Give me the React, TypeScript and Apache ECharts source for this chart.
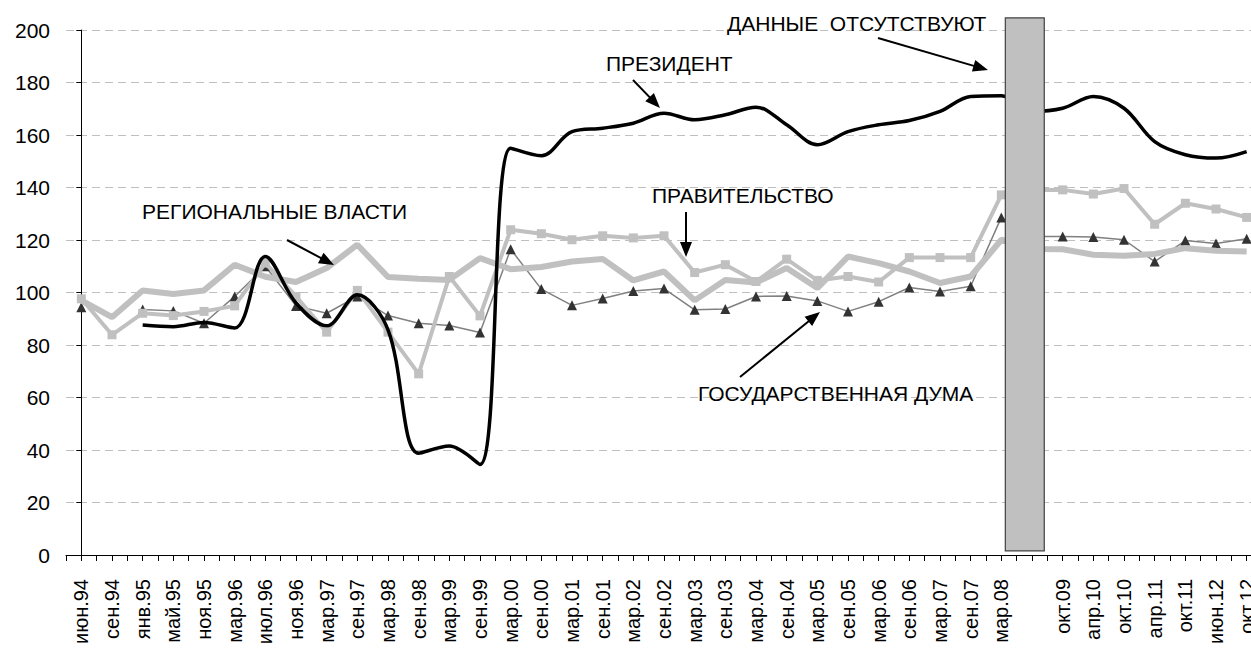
import React, { useEffect, useRef } from 'react';
import * as echarts from 'echarts';

const categories = [
  'июн.94', 'сен.94', 'янв.95', 'май.95', 'ноя.95', 'мар.96', 'июл.96', 'ноя.96', 'мар.97', 'сен.97',
  'мар.98', 'сен.98', 'мар.99', 'сен.99', 'мар.00', 'сен.00', 'мар.01', 'сен.01', 'мар.02', 'сен.02',
  'мар.03', 'сен.03', 'мар.04', 'сен.04', 'мар.05', 'сен.05', 'мар.06', 'сен.06', 'мар.07', 'сен.07',
  'мар.08', '', 'окт.09', 'апр.10', 'окт.10', 'апр.11', 'окт.11', 'июн.12', 'окт.12',
];

const president = [
  null, null, 87.6, 87, 88.6, 86.5, 113.7, 96, 87.3, 99.1,
  85.8, 38.8, 41.5, 34.5, 155, 152.1, 161.3, 162.6, 164.5, 168.3,
  165.8, 167.7, 170.6, 163.9, 156.3, 161.3, 163.9, 165.5, 169, 174.7,
  175, 169, 170.2, 174.7, 170.2, 157.5, 152.5, 151.2, 153.7,
];

const government = [
  97.6, 83.9, 92.1, 91.2, 92.8, 94.9, 111.2, 98.5, 84.9, 100.8,
  84.9, 69.0, 106.1, 91.1, 123.9, 122.4, 120.1, 121.6, 120.8, 121.6,
  107.6, 110.6, 104.2, 112.7, 104.6, 106.1, 104, 113.3, 113.3, 113.3,
  137.2, 139, 139.1, 137.5, 139.6, 126, 134, 131.8, 128.6,
];

const regional = [
  97, 90.6, 100.8, 99.4, 100.8, 110.6, 106, 104, 109.3, 118.2,
  105.9, 105.2, 104.8, 113.1, 108.9, 109.7, 111.8, 112.8, 104.6, 108,
  97, 104.8, 103.8, 109.3, 101.7, 113.7, 111.2, 108, 103.6, 106.1,
  120.1, 116.6, 116.5, 114.4, 114, 114.7, 116.9, 115.9, 115.6,
];

const duma = [
  94.4, null, 93.5, 93, 88.3, 98.5, 110, 94.9, 92.1, 98.5,
  91.2, 88.3, 87.4, 84.8, 116.5, 101.3, 95.1, 97.7, 100.6, 101.5,
  93.4, 93.7, 98.5, 98.7, 96.8, 92.8, 96.5, 101.9, 100.4, 102.4,
  128.6, 121.3, 121.3, 121.1, 120.1, 111.8, 119.8, 118.7, 120.5,
];

// "no data" bar: [x from, x to, y from, y to] in axis units
const gapBar = [[30.13, 31.4, 1.6, 204.6]];

const FONT = '"Liberation Sans", Arial, sans-serif';

function arrow(x1: number, y1: number, x2: number, y2: number) {
  const a = Math.atan2(y2 - y1, x2 - x1);
  const head = 15;
  const w = 12;
  const c = Math.cos(a);
  const s = Math.sin(a);
  const bx = x2 - head * c;
  const by = y2 - head * s;
  return [
    {
      type: 'line',
      shape: { x1, y1, x2: bx + 2 * c, y2: by + 2 * s },
      style: { stroke: '#000', lineWidth: 2 },
      z: 100,
    },
    {
      type: 'polygon',
      shape: {
        points: [
          [x2, y2],
          [bx - (w / 2) * s, by + (w / 2) * c],
          [bx + (w / 2) * s, by - (w / 2) * c],
        ],
      },
      style: { fill: '#000' },
      z: 100,
    },
  ];
}

function label(text: string, x: number, y: number) {
  return {
    type: 'text',
    x,
    y,
    z: 100,
    style: {
      text,
      fill: '#000',
      font: `21px ${FONT}`,
      textAlign: 'left',
      textVerticalAlign: 'middle',
      verticalAlign: 'middle',
    },
  };
}

export default function App() {
  const ref = useRef<HTMLDivElement>(null);

  useEffect(() => {
    const chart = echarts.init(ref.current!, null, { renderer: 'svg' });
    const option: any = {
      animation: false,
      backgroundColor: '#fff',
      grid: { left: 66, top: 30, width: 1196, height: 525, containLabel: false },
      xAxis: [
        {
          type: 'category',
          data: categories,
          boundaryGap: true,
          axisLine: { lineStyle: { color: '#000', width: 1 } },
          axisTick: { show: false },
          axisLabel: {
            interval: 0,
            rotate: 90,
            fontSize: 20,
            color: '#000',
            fontFamily: FONT,
            margin: 24,
          },
          splitLine: { show: false },
        },
        {
          type: 'value',
          min: -0.5,
          max: 38.5,
          interval: 0.5,
          position: 'bottom',
          axisLine: { show: false },
          axisTick: { show: true, length: 6, lineStyle: { color: '#000', width: 1 } },
          axisLabel: { show: false },
          splitLine: { show: false },
        },
      ],
      yAxis: {
        type: 'value',
        min: 0,
        max: 200,
        interval: 20,
        axisLine: { show: true, lineStyle: { color: '#000', width: 1 } },
        axisTick: { show: true, length: 5, lineStyle: { color: '#000' } },
        axisLabel: { fontSize: 21, color: '#000', fontFamily: FONT, margin: 16 },
        splitLine: { show: true, lineStyle: { color: '#BFBFBF', type: [8, 5], width: 1 } },
      },
      series: [
        {
          name: 'ГОСУДАРСТВЕННАЯ ДУМА',
          type: 'line',
          data: duma,
          symbol: 'triangle',
          symbolSize: 10,
          showSymbol: true,
          showAllSymbol: true,
          itemStyle: { color: '#333333' },
          lineStyle: { color: '#808080', width: 1.5 },
          z: 2,
        },
        {
          name: 'РЕГИОНАЛЬНЫЕ ВЛАСТИ',
          type: 'line',
          data: regional,
          symbol: 'none',
          lineStyle: { color: '#C0C0C0', width: 6 },
          z: 3,
        },
        {
          name: 'ПРАВИТЕЛЬСТВО',
          type: 'line',
          data: government,
          symbol: 'rect',
          symbolSize: 9,
          showAllSymbol: true,
          itemStyle: { color: '#C0C0C0' },
          lineStyle: { color: '#C0C0C0', width: 4 },
          z: 4,
        },
        {
          name: 'ПРЕЗИДЕНТ',
          type: 'line',
          data: president,
          smooth: 0.35,
          symbol: 'none',
          lineStyle: { color: '#000', width: 3.5 },
          z: 5,
        },
        {
          name: 'gap',
          type: 'custom',
          xAxisIndex: 1,
          yAxisIndex: 0,
          data: gapBar,
          z: 20,
          clip: false,
          renderItem: (_params: any, api: any) => {
            const p0 = api.coord([api.value(0), api.value(3)]);
            const p1 = api.coord([api.value(1), api.value(2)]);
            return {
              type: 'rect',
              shape: { x: p0[0], y: p0[1], width: p1[0] - p0[0], height: p1[1] - p0[1] },
              style: { fill: '#C0C0C0', stroke: '#404040', lineWidth: 1.2 },
            };
          },
        },
      ],
      graphic: [
        label('ДАННЫЕ  ОТСУТСТВУЮТ', 727, 23),
        ...arrow(878, 38, 988, 70),
        label('ПРЕЗИДЕНТ', 606, 63),
        ...arrow(633, 80, 660, 108),
        label('РЕГИОНАЛЬНЫЕ ВЛАСТИ', 142, 211),
        ...arrow(287, 240, 334, 265),
        label('ПРАВИТЕЛЬСТВО', 652, 195),
        ...arrow(686, 212, 686, 257),
        label('ГОСУДАРСТВЕННАЯ ДУМА', 698, 393),
        ...arrow(740, 377, 820, 312),
      ],
    };
    chart.setOption(option);
    return () => chart.dispose();
  }, []);

  return (
    <div
      ref={ref}
      style={{ position: 'fixed', left: 0, top: 0, width: 1280, height: 650, background: '#fff' }}
    />
  );
}
